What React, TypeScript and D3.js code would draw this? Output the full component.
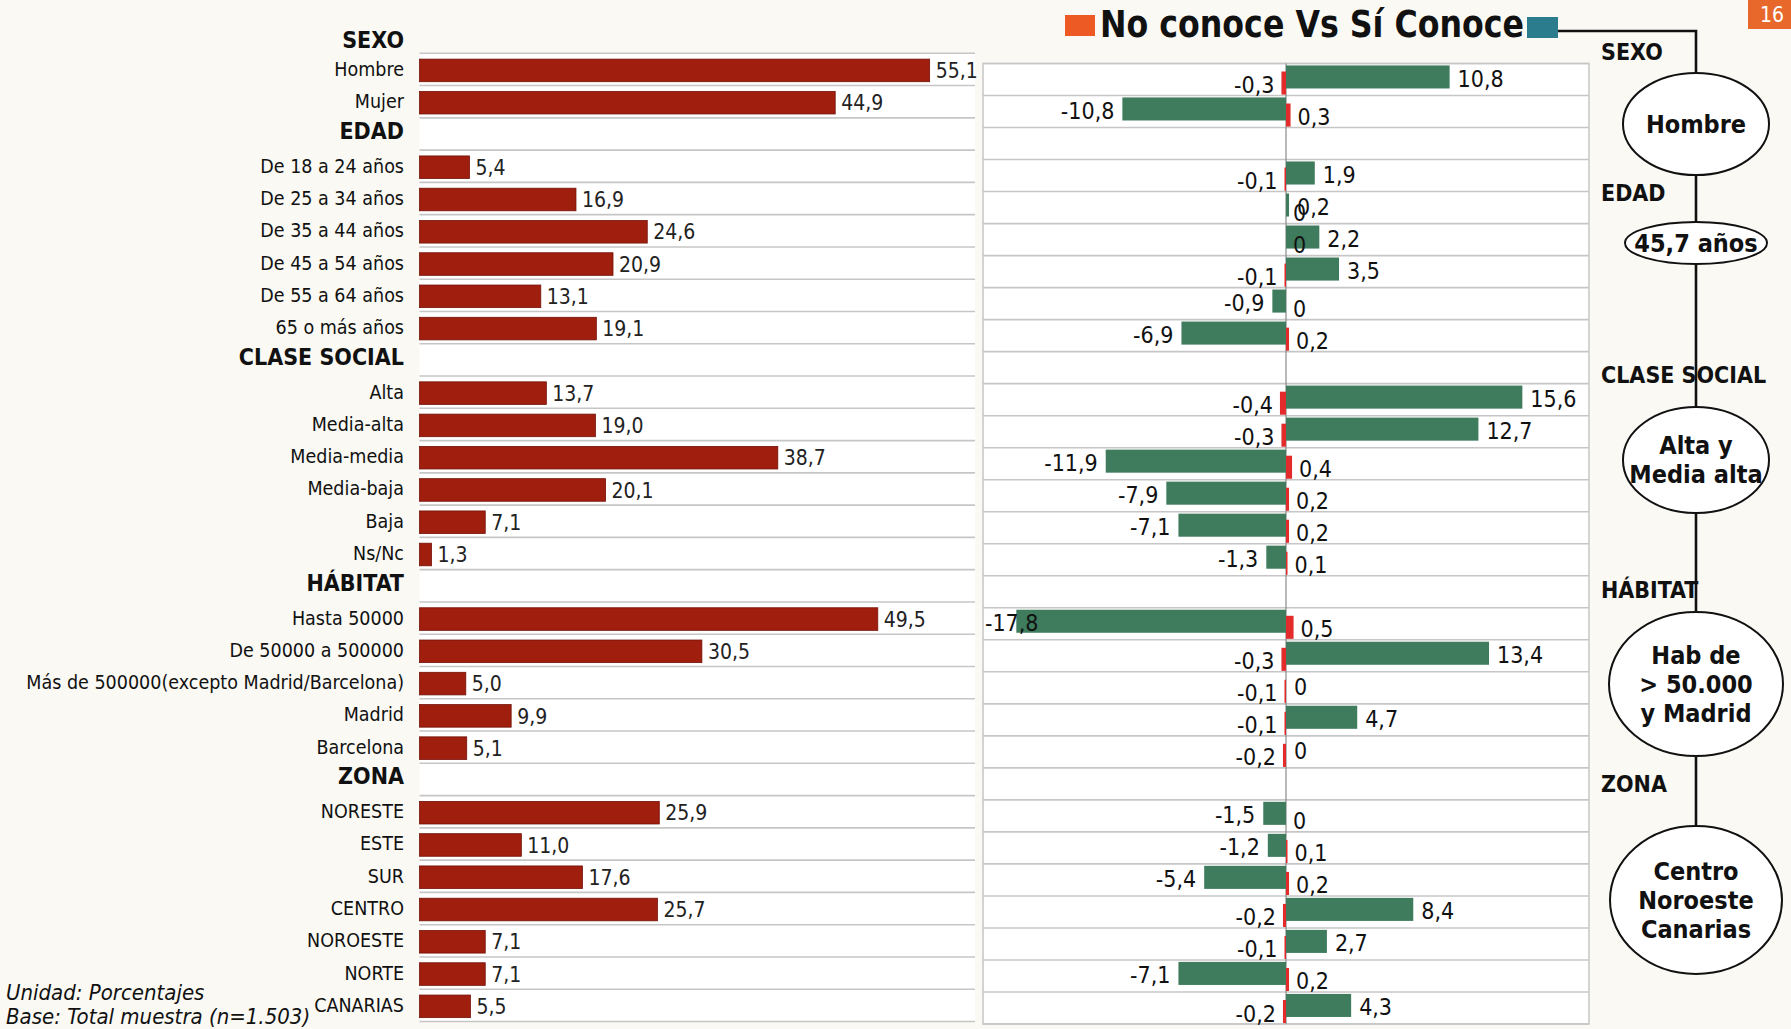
import React from "react";
import * as d3 from "d3";

// ---------- data ----------
const sectionTitles = ["SEXO", "EDAD", "CLASE SOCIAL", "HÁBITAT", "ZONA"];
const categories = [
  "Hombre", "Mujer",
  "De 18 a 24 años", "De 25 a 34 años", "De 35 a 44 años", "De 45 a 54 años", "De 55 a 64 años", "65 o más años",
  "Alta", "Media-alta", "Media-media", "Media-baja", "Baja", "Ns/Nc",
  "Hasta 50000", "De 50000 a 500000", "Más de 500000(excepto Madrid/Barcelona)", "Madrid", "Barcelona",
  "NORESTE", "ESTE", "SUR", "CENTRO", "NOROESTE", "NORTE", "CANARIAS",
];
const sectionOf = [0, 0, 1, 1, 1, 1, 1, 1, 2, 2, 2, 2, 2, 2, 3, 3, 3, 3, 3, 4, 4, 4, 4, 4, 4, 4];
const totalShare = [55.1, 44.9, 5.4, 16.9, 24.6, 20.9, 13.1, 19.1, 13.7, 19.0, 38.7, 20.1, 7.1, 1.3, 49.5, 30.5, 5.0, 9.9, 5.1, 25.9, 11.0, 17.6, 25.7, 7.1, 7.1, 5.5];
const noConoceDiff = [-0.3, 0.3, -0.1, 0, 0, -0.1, 0, 0.2, -0.4, -0.3, 0.4, 0.2, 0.2, 0.1, 0.5, -0.3, -0.1, -0.1, -0.2, 0, 0.1, 0.2, -0.2, -0.1, 0.2, -0.2];
const siConoceDiff = [10.8, -10.8, 1.9, 0.2, 2.2, 3.5, -0.9, -6.9, 15.6, 12.7, -11.9, -7.9, -7.1, -1.3, -17.8, 13.4, 0, 4.7, 0, -1.5, -1.2, -5.4, 8.4, 2.7, -7.1, 4.3];
const leftDomain = [0, 60];
const rightDomain = [-20, 20];
const chartTitle = "No conoce Vs Sí Conoce";
const profileValues = [["Hombre"], ["45,7 años"], ["Alta y", "Media alta"], ["Hab de", "> 50.000", "y Madrid"], ["Centro", "Noroeste", "Canarias"]];
const footnotes = ["Unidad: Porcentajes", "Base: Total muestra (n=1.503)"];
const pageNumber = "16";

// ---------- layout / style ----------
const W = 1791, H = 1029;
const COND = "'DejaVu Sans Condensed', 'DejaVu Sans', sans-serif";
const BG = "#faf9f3";
const GRID = "#c6c6c6";
const LEFT_BAR = "#9f1e0e";
const GREEN = "#3e7c5d";
const RED = "#e32b2b";
const ORANGE = "#ee5a24";
const TEAL = "#2b7d8e";

const L = { x0: 419.5, x1: 975, y0: 53.3, y1: 1021.5, labelX: 404 };
const R = { x0: 983, x1: 1589, y0: 63.5, y1: 1024 };
// timeline (profile) layout
const TL = {
  x: 1696, labelX: 1601,
  labelBaselines: [60, 201, 383, 598, 792],
  ellipses: [
    { cy: 124, rx: 73, ry: 51 },
    { cy: 243, rx: 71, ry: 21 },
    { cy: 460, rx: 73, ry: 53 },
    { cy: 684, rx: 87, ry: 72 },
    { cy: 900, rx: 86, ry: 74 },
  ],
};

let ctx: CanvasRenderingContext2D | null = null;
function textWidth(t: string, font: string) {
  if (!ctx) ctx = document.createElement("canvas").getContext("2d");
  if (!ctx) return t.length * 10;
  ctx.font = font;
  return ctx.measureText(t).width;
}

const fmtL = (v: number) => v.toFixed(1).replace(".", ",");
const fmtR = (v: number) => (v === 0 ? "0" : v.toFixed(1).replace(".", ","));

export default function App() {
  // rows: categories with a blank header row inserted at each section change
  const rows: string[] = [];
  categories.forEach((c, i) => {
    if (i > 0 && sectionOf[i] !== sectionOf[i - 1]) rows.push("§" + sectionTitles[sectionOf[i]]);
    rows.push(c);
  });

  const yL = d3.scaleBand<string>().domain(rows).range([L.y0, L.y1]);
  const yR = d3.scaleBand<string>().domain(rows).range([R.y0, R.y1]);
  const xL = d3.scaleLinear().domain(leftDomain).range([L.x0, L.x1]);
  const xR = d3.scaleLinear().domain(rightDomain).range([R.x0, R.x1]);
  const bwL = yL.bandwidth();
  const bwR = yR.bandwidth();
  const zero = xR(0);

  const labelFontR = `23px ${COND}`;

  const headerY = (title: string, i: number) => {
    if (i === 0) return (yL(rows[0]) as number) - bwL / 2 + 3;
    return (yL("§" + title) as number) + bwL / 2 - 3;
  };

  return (
    <svg width={W} height={H} viewBox={`0 0 ${W} ${H}`} style={{ position: "absolute", left: 0, top: 0, display: "block" }}
      fontFamily={COND} fontStretch="condensed">
      <rect x={0} y={0} width={W} height={H} fill={BG} />

      {/* ---------- left chart ---------- */}
      <rect x={L.x0} y={L.y0} width={L.x1 - L.x0} height={L.y1 - L.y0} fill="#ffffff" />
      {d3.range(rows.length + 1).map((i) => (
        <line key={"gl" + i} x1={L.x0} x2={L.x1} y1={L.y0 + i * bwL} y2={L.y0 + i * bwL} stroke={GRID} strokeWidth={1.6} />
      ))}
      {categories.map((c, i) => {
        const y = yL(c) as number;
        const v = totalShare[i];
        return (
          <g key={"lb" + i}>
            <rect x={xL(0)} y={y + 0.18 * bwL} width={xL(v) - xL(0)} height={0.7 * bwL} fill={LEFT_BAR} stroke="#741208" strokeWidth={0.8} />
            <text x={xL(v) + 6} y={y + 0.55 * bwL} dominantBaseline="central" fontSize={21} fill="#222">{fmtL(v)}</text>
            <text x={L.labelX} y={y + bwL / 2} dominantBaseline="central" textAnchor="end" fontSize={19.5} fill="#111">{c}</text>
          </g>
        );
      })}
      {sectionTitles.map((t, i) => (
        <text key={"sh" + i} x={L.labelX} y={headerY(t, i)} dominantBaseline="central" textAnchor="end" fontSize={23} fontWeight="bold" fill="#111">{t}</text>
      ))}

      {/* ---------- right chart ---------- */}
      <rect x={R.x0} y={R.y0} width={R.x1 - R.x0} height={R.y1 - R.y0} fill="#ffffff" stroke={GRID} strokeWidth={1.5} />
      {d3.range(rows.length + 1).map((i) => (
        <line key={"gr" + i} x1={R.x0} x2={R.x1} y1={R.y0 + i * bwR} y2={R.y0 + i * bwR} stroke={GRID} strokeWidth={1.6} />
      ))}
      <line x1={zero} x2={zero} y1={R.y0} y2={R.y1} stroke="#8a8a8a" strokeWidth={1.2} />
      {categories.map((c, i) => {
        const y = yR(c) as number;
        const g = siConoceDiff[i];
        const r = noConoceDiff[i];
        const gy = y + 0.06 * bwR, gh = 0.72 * bwR;
        const ry = y + 0.25 * bwR, rh = 0.72 * bwR;
        const gl = fmtR(g), rl = fmtR(r);
        let gx: number, ga: "start" | "end";
        if (g < 0) {
          const w = textWidth(gl, labelFontR);
          gx = Math.max(xR(g) - 8, R.x0 + 2 + w);
          ga = "end";
        } else {
          gx = xR(g) + 8;
          ga = "start";
        }
        const rx = r < 0 ? xR(r) - 7 : xR(r) + 7;
        const ra = r < 0 ? "end" : "start";
        return (
          <g key={"rb" + i}>
            <rect x={Math.min(xR(g), zero)} y={gy} width={Math.abs(xR(g) - zero)} height={gh} fill={GREEN} />
            <rect x={Math.min(xR(r), zero)} y={ry} width={Math.abs(xR(r) - zero)} height={rh} fill={RED} />
            <text x={gx} y={gy + gh / 2 + 2} dominantBaseline="central" textAnchor={ga} fontSize={23} fill="#111">{gl}</text>
            <text x={rx} y={ry + rh / 2 + 2} dominantBaseline="central" textAnchor={ra} fontSize={23} fill="#111">{rl}</text>
          </g>
        );
      })}

      {/* ---------- title / legend ---------- */}
      <rect x={1065} y={15} width={30} height={21} fill={ORANGE} />
      <text x={1100} y={37} fontSize={37} fontWeight="bold" fill="#111" textLength={424} lengthAdjust="spacingAndGlyphs">{chartTitle}</text>
      <rect x={1527} y={17} width={31} height={21} fill={TEAL} />

      {/* ---------- profile timeline ---------- */}
      <polyline points={`1558,31 ${TL.x},31 ${TL.x},${TL.ellipses[4].cy - TL.ellipses[4].ry}`} fill="none" stroke="#111" strokeWidth={2.6} />
      {sectionTitles.map((t, i) => (
        <text key={"tl" + i} x={TL.labelX} y={TL.labelBaselines[i]} fontSize={23} fontWeight="bold" fill="#111">{t}</text>
      ))}
      {profileValues.map((lines, i) => {
        const e = TL.ellipses[i];
        const lh = 29;
        const start = e.cy - ((lines.length - 1) * lh) / 2;
        return (
          <g key={"pe" + i}>
            <ellipse cx={TL.x} cy={e.cy} rx={e.rx} ry={e.ry} fill="#ffffff" stroke="#111" strokeWidth={2} />
            {lines.map((s, j) => (
              <text key={j} x={TL.x} y={start + j * lh} dominantBaseline="central" textAnchor="middle" fontSize={25} fontWeight="bold" fill="#111">{s}</text>
            ))}
          </g>
        );
      })}

      {/* ---------- page number ---------- */}
      <rect x={1748} y={0} width={43} height={29} fill="#e8672a" />
      <text x={1772} y={22} textAnchor="middle" fontSize={21} fill="#ffffff">{pageNumber}</text>

      {/* ---------- footnotes ---------- */}
      {footnotes.map((f, i) => (
        <text key={"fn" + i} x={6} y={1000 + i * 24} fontSize={22} fontStyle="italic" fill="#111">{f}</text>
      ))}
    </svg>
  );
}
